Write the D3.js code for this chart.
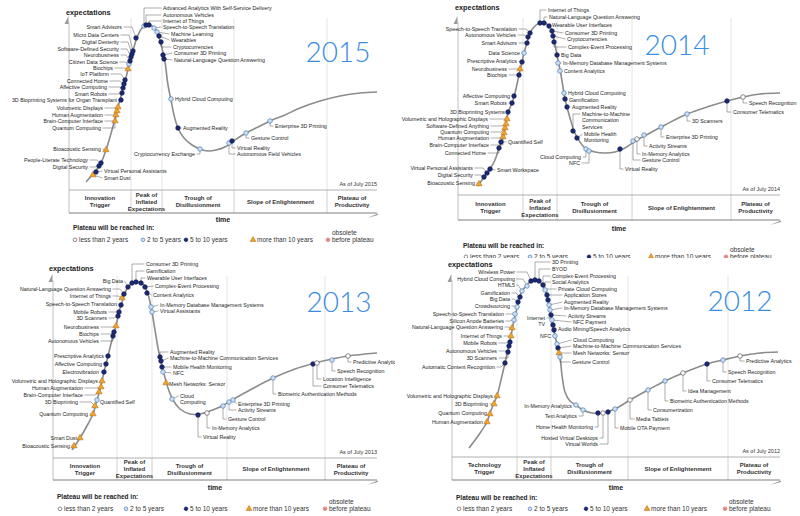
<!DOCTYPE html>
<html>
<head>
<meta charset="utf-8">
<script src="https://cdn.jsdelivr.net/npm/d3@7"></script>
<style>
  body { margin: 0; background: #fff; }
  svg { display: block; font-family: "Liberation Sans", Arial, sans-serif; }
</style>
</head>
<body>
<div id="chart"></div>
<script>
// ---- shared categories ----
const statuses = ["lt2", "2to5", "5to10", "gt10", "obs"];
const legendLabels = ["less than 2 years", "2 to 5 years", "5 to 10 years", "more than 10 years", "before plateau"];
const phaseNames = [["Innovation", "Trigger"], ["Peak of", "Inflated", "Expectations"], ["Trough of", "Disillusionment"], ["Slope of Enlightenment"], ["Plateau of", "Productivity"]];
const phaseNames2012 = [["Technology", "Trigger"], ["Peak of", "Inflated", "Expectations"], ["Trough of", "Disillusionment"], ["Slope of Enlightenment"], ["Plateau of", "Productivity"]];

// ---- 2015 ---- (time, expectations)
const curve2015 = [[17,8],[24,16],[31,25],[37,40],[43,60],[49,83],[55,105],[61,128],[65,143],[69,155],[73,162],[78,165],[83,164],[87,160],[90,153],[93,142],[96,128],[99,105],[102,90],[105,75],[109,62],[115,52],[123,45],[131,41],[139,39],[147,40],[156,43],[166,50],[177,57],[189,63],[201,69],[216,75],[231,82],[251,89],[271,94],[291,97],[308,98]];
const phases2015 = [62, 93, 165, 258];
const tech2015 = [
  ["Smart Dust",24,15,"gt10"],["Virtual Personal Assistants",27,18,"5to10"],["Digital Security",30,24,"5to10"],
  ["People-Literate Technology",32,27,"5to10"],["Bioacoustic Sensing",37,40,"gt10"],["Quantum Computing",46,69,"gt10"],
  ["Brain-Computer Interface",47,75,"gt10"],["Human Augmentation",48,79,"gt10"],["Volumetric Displays",49,83,"gt10"],
  ["3D Bioprinting Systems for Organ Transplant",52,90,"5to10"],["Smart Robots",53,97,"5to10"],["Affective Computing",54,102,"5to10"],
  ["Connected Home",55,106,"5to10"],["IoT Platform",56,110,"5to10"],["Biochips",59,121,"gt10"],
  ["Citizen Data Science",60,126,"2to5"],["Neurobusiness",61,129,"5to10"],["Software-Defined Security",62,133,"5to10"],
  ["Digital Dexterity",63,136,"5to10"],["Micro Data Centers",64,139,"5to10"],["Smart Advisors",67,152,"5to10"],
  ["Advanced Analytics With Self-Service Delivery",75,164,"2to5"],["Autonomous Vehicles",77,165,"5to10"],["Internet of Things",80,165,"5to10"],
  ["Speech-to-Speech Translation",85,162,"2to5"],["Machine Learning",88,158,"2to5"],["Wearables",90,154,"5to10"],
  ["Cryptocurrencies",92,148,"5to10"],["Consumer 3D Printing",94,135,"5to10"],["Natural-Language Question Answering",95,131,"5to10"],
  ["Hybrid Cloud Computing",102,91,"2to5"],["Augmented Reality",109,62,"5to10"],["Cryptocurrency Exchange",131,41,"2to5"],
  ["Autonomous Field Vehicles",160,47,"2to5"],["Virtual Reality",163,49,"5to10"],["Gesture Control",177,57,"2to5"],
  ["Enterprise 3D Printing",201,69,"2to5"]
];
const labels2015 = [
  ["Smart Advisors",53,163,"e"],["Micro Data Centers",50,155,"e"],["Digital Dexterity",50,148,"e"],
  ["Software-Defined Security",50,141,"e"],["Neurobusiness",50,135,"e"],["Citizen Data Science",49,128,"e"],
  ["Biochips",44,122,"e"],["IoT Platform",40,116,"e"],["Connected Home",39,109,"e"],["Affective Computing",38,103,"e"],
  ["Smart Robots",38,96,"e"],["3D Bioprinting Systems for Organ Transplant",48,90,"e"],["Volumetric Displays",34,82,"e"],
  ["Human Augmentation",34,75,"e"],["Brain-Computer Interface",34,69,"e"],["Quantum Computing",32,62,"e"],
  ["Bioacoustic Sensing",32,41,"e"],["People-Literate Technology",19,30,"e"],["Digital Security",19,23,"e"],
  ["Virtual Personal Assistants",35,19,"s"],["Smart Dust",35,12,"s"],
  ["Advanced Analytics With Self-Service Delivery",94,182,"s"],["Autonomous Vehicles",94,175,"s"],["Internet of Things",94,169,"s"],
  ["Speech-to-Speech Translation",94,163,"s"],["Machine Learning",102,156,"s"],["Wearables",102,150,"s"],
  ["Cryptocurrencies",104,143,"s"],["Consumer 3D Printing",105,137,"s"],["Natural-Language Question Answering",105,130,"s"],
  ["Hybrid Cloud Computing",106,91,"s"],["Augmented Reality",114,62,"s"],["Cryptocurrency Exchange",126,36,"e"],
  ["Virtual Reality",168,42,"s"],["Autonomous Field Vehicles",168,36,"s"],["Gesture Control",182,52,"s"],
  ["Enterprise 3D Printing",206,64,"s"]
];

// ---- 2014 ----
const curve2014 = [[20,9],[26,18],[32,26],[37,35],[41,47],[44,55],[47,66],[50,82],[54,92],[57,102],[61,120],[64,133],[66,142],[69,152],[72,162],[76,168],[82,172],[87,172],[91,169],[94,164],[96,155],[99,140],[101,130],[103,120],[106,102],[108,92],[112,77],[116,64],[120,56],[127,47],[137,43],[147,42],[157,43],[167,47],[179,55],[192,62],[207,70],[229,81],[252,89],[269,94],[285,98],[302,101],[322,102]];
const phases2014 = [65, 99, 174, 273];
const tech2014 = [
  ["Bioacoustic Sensing",21,11,"gt10"],["Digital Security",26,18,"5to10"],["Virtual Personal Assistants",29,22,"5to10"],
  ["Smart Workspace",32,26,"5to10"],["Connected Home",41,47,"5to10"],["Quantified Self",43,53,"5to10"],
  ["Brain-Computer Interface",45,58,"gt10"],["Human Augmentation",46,62,"gt10"],["Quantum Computing",47,67,"gt10"],
  ["Software-Defined Anything",48,71,"gt10"],["Volumetric and Holographic Displays",49,76,"gt10"],["3D Bioprinting Systems",50,83,"5to10"],
  ["Smart Robots",54,92,"5to10"],["Affective Computing",56,99,"5to10"],["Biochips",61,120,"5to10"],
  ["Neurobusiness",62,126,"gt10"],["Prescriptive Analytics",64,133,"5to10"],["Data Science",66,142,"2to5"],
  ["Smart Advisors",69,152,"5to10"],["Autonomous Vehicles",70,158,"5to10"],["Speech-to-Speech Translation",72,162,"5to10"],
  ["Internet of Things",82,172,"5to10"],["Natural-Language Question Answering",86,172,"5to10"],["Wearable User Interfaces",91,169,"5to10"],
  ["Consumer 3D Printing",94,164,"5to10"],["Cryptocurrencies",95,159,"5to10"],["Complex-Event Processing",96,153,"5to10"],
  ["Big Data",99,140,"5to10"],["In-Memory Database Management Systems",100,132,"2to5"],["Content Analytics",102,124,"2to5"],
  ["Hybrid Cloud Computing",106,102,"2to5"],["Gamification",107,96,"5to10"],["Augmented Reality",109,88,"5to10"],
  ["Machine-to-Machine Communication Services",115,64,"5to10"],["Mobile Health Monitoring",119,57,"5to10"],
  ["Cloud Computing",128,46,"2to5"],["NFC",131,44,"2to5"],["Virtual Reality",162,46,"5to10"],
  ["Gesture Control",175,54,"2to5"],["In-Memory Analytics",179,56,"lt2"],["Activity Streams",186,60,"2to5"],
  ["Enterprise 3D Printing",203,68,"2to5"],["3D Scanners",229,81,"2to5"],["Consumer Telematics",269,94,"5to10"],
  ["Speech Recognition",285,98,"lt2"]
];
const labels2014 = [
  ["Speech-to-Speech Translation",59,166,"e"],["Autonomous Vehicles",58,160,"e"],["Smart Advisors",59,152,"e"],
  ["Data Science",62,142,"e"],["Prescriptive Analytics",59,134,"e"],["Neurobusiness",49,126,"e"],["Biochips",49,120,"e"],
  ["Affective Computing",52,99,"e"],["Smart Robots",49,92,"e"],["3D Bioprinting Systems",47,83,"e"],
  ["Volumetric and Holographic Displays",30,76,"e"],["Software-Defined Anything",31,69,"e"],["Quantum Computing",31,63,"e"],
  ["Human Augmentation",31,57,"e"],["Brain-Computer Interface",31,50,"e"],["Connected Home",28,42,"e"],
  ["Virtual Personal Assistants",15,27,"e"],["Digital Security",15,20,"e"],["Bioacoustic Sensing",17,12,"e"],
  ["Quantified Self",50,53,"s"],["Smart Workspace",39,25,"s"],["Internet of Things",90,185,"s"],
  ["Natural-Language Question Answering",91,178,"s"],["Wearable User Interfaces",94,170,"s"],["Consumer 3D Printing",107,162,"s"],
  ["Cryptocurrencies",109,156,"s"],["Complex-Event Processing",110,148,"s"],["Big Data",103,140,"s"],
  ["In-Memory Database Management Systems",105,132,"s"],["Content Analytics",106,124,"s"],["Hybrid Cloud Computing",110,102,"s"],
  ["Gamification",111,95,"s"],["Augmented Reality",114,88,"s"],
  ["Machine-to-Machine Communication Services",124,81,"s","Machine-to-Machine\nCommunication\nServices"],
  ["Mobile Health Monitoring",126,61,"s","Mobile Health\nMonitoring"],["Cloud Computing",123,38,"e"],["NFC",122,32,"e"],
  ["Virtual Reality",167,26,"s"],["In-Memory Analytics",184,41,"s"],["Gesture Control",184,35,"s"],
  ["Activity Streams",191,49,"s"],["Enterprise 3D Printing",208,58,"s"],["3D Scanners",234,74,"s"],
  ["Consumer Telematics",275,83,"s"],["Speech Recognition",291,92,"s"]
];

// ---- 2013 ----
const curve2013 = [[19,8],[27,20],[35,34],[40,44],[44,58],[48,72],[51,86],[53,94],[55,102],[60,122],[63,132],[66,146],[69,156],[72,165],[75,171],[80,175],[86,176],[91,173],[94,167],[97,156],[99,146],[102,128],[105,110],[108,96],[111,84],[115,70],[120,58],[127,49],[137,44],[147,44],[157,47],[169,52],[179,58],[197,68],[220,80],[242,89],[262,95],[279,99],[295,102],[324,105]];
const phases2013 = [64, 99, 174, 272];
const tech2013 = [
  ["Bioacoustic Sensing",21,12,"gt10"],["Smart Dust",27,20,"gt10"],["Quantum Computing",40,44,"gt10"],
  ["3D Bioprinting",42,52,"gt10"],["Quantified Self",44,58,"2to5"],["Brain-Computer Interface",46,66,"gt10"],
  ["Human Augmentation",48,71,"gt10"],["Volumetric and Holographic Displays",49,77,"gt10"],["Electrovibration",51,86,"5to10"],
  ["Affective Computing",53,94,"5to10"],["Prescriptive Analytics",55,102,"5to10"],["Autonomous Vehicles",60,122,"5to10"],
  ["Biochips",61,126,"5to10"],["Neurobusiness",63,132,"gt10"],["3D Scanners",65,142,"5to10"],["Mobile Robots",66,146,"5to10"],
  ["Speech-to-Speech Translation",68,153,"5to10"],["Internet of Things",69,160,"gt10"],["Natural-Language Question Answering",71,164,"5to10"],
  ["Big Data",75,171,"5to10"],["Consumer 3D Printing",79,175,"5to10"],["Gamification",83,176,"5to10"],
  ["Wearable User Interfaces",88,175,"5to10"],["Complex-Event Processing",92,171,"5to10"],["Content Analytics",94,165,"5to10"],
  ["In-Memory Database Management Systems",98,151,"2to5"],["Virtual Assistants",99,146,"2to5"],["Augmented Reality",107,101,"5to10"],
  ["Machine-to-Machine Communication Services",108,97,"5to10"],["Mobile Health Monitoring",109,91,"5to10"],["NFC",110,86,"2to5"],
  ["Mesh Networks: Sensor",113,75,"gt10"],["Cloud Computing",119,59,"2to5"],["Virtual Reality",145,43,"5to10"],
  ["In-Memory Analytics",154,45,"lt2"],["Gesture Control",170,52,"2to5"],["Activity Streams",176,56,"2to5"],
  ["Enterprise 3D Printing",180,58,"2to5"],["Biometric Authentication Methods",220,80,"2to5"],["Consumer Telematics",260,94,"5to10"],
  ["Location Intelligence",264,95,"lt2"],["Speech Recognition",279,98,"2to5"],["Predictive Analytics",295,102,"lt2"]
];
const labels2013 = [
  ["Big Data",70,177,"e"],["Natural-Language Question Answering",58,169,"e"],["Internet of Things",58,162,"e"],
  ["Speech-to-Speech Translation",64,154,"e"],["Mobile Robots",54,146,"e"],["3D Scanners",54,140,"e"],
  ["Neurobusiness",46,131,"e"],["Biochips",46,124,"e"],["Autonomous Vehicles",46,117,"e"],
  ["Prescriptive Analytics",51,102,"e"],["Affective Computing",49,94,"e"],["Electrovibration",46,86,"e"],
  ["Volumetric and Holographic Displays",45,77,"e"],["Human Augmentation",30,70,"e"],["Brain-Computer Interface",30,63,"e"],
  ["3D Bioprinting",25,56,"e"],["Quantum Computing",35,44,"e"],["Smart Dust",24,20,"e"],["Bioacoustic Sensing",17,12,"e"],
  ["Quantified Self",47,56,"s"],["Consumer 3D Printing",93,194,"s"],["Gamification",93,187,"s"],
  ["Wearable User Interfaces",94,180,"s"],["Complex-Event Processing",102,172,"s"],["Content Analytics",100,163,"s"],
  ["In-Memory Database Management Systems",107,153,"s"],["Virtual Assistants",107,147,"s"],["Augmented Reality",117,106,"s"],
  ["Machine-to-Machine Communication Services",117,100,"s"],["Mobile Health Monitoring",120,91,"s"],["NFC",120,85,"s"],
  ["Mesh Networks: Sensor",116,74,"s"],["Cloud Computing",127,62,"s","Cloud\nComputing"],["Virtual Reality",150,21,"s"],
  ["In-Memory Analytics",159,30,"s"],["Gesture Control",175,39,"s"],["Activity Streams",185,48,"s"],
  ["Enterprise 3D Printing",185,54,"s"],["Biometric Authentication Methods",225,64,"s"],["Location Intelligence",270,79,"s"],
  ["Consumer Telematics",270,72,"s"],["Speech Recognition",284,87,"s"],["Predictive Analytics",300,96,"s"]
];

// ---- 2012 ----
const curve2012 = [[17,9],[26,21],[35,35],[38,44],[42,54],[45,61],[49,77],[53,94],[56,108],[59,121],[61,132],[64,145],[67,157],[70,166],[75,172],[79,176],[83,177],[88,175],[92,169],[95,161],[97,151],[99,141],[101,131],[103,121],[105,113],[108,100],[110,82],[113,65],[118,56],[124,52],[131,47],[140,44],[151,44],[163,48],[178,57],[196,67],[213,76],[231,84],[255,93],[271,97],[288,101],[308,104],[326,105]];
const phases2012 = [65, 99, 176, 276];
const tech2012 = [
  ["Human Augmentation",35,35,"gt10"],["Quantum Computing",38,43,"gt10"],["3D Bioprinting",42,53,"gt10"],
  ["Volumetric and Holographic Displays",45,61,"gt10"],["Automatic Content Recognition",53,94,"5to10"],["3D Scanners",56,105,"5to10"],
  ["Autonomous Vehicles",57,111,"5to10"],["Mobile Robots",58,115,"5to10"],["Internet of Things",59,121,"gt10"],
  ["Natural-Language Question Answering",60,129,"gt10"],["Silicon Anode Batteries",62,137,"2to5"],["Speech-to-Speech Translation",63,143,"2to5"],
  ["Crowdsourcing",65,150,"2to5"],["Big Data",66,155,"5to10"],["Gamification",68,160,"5to10"],["HTML5",70,166,"2to5"],
  ["Hybrid Cloud Computing",75,171,"2to5"],["Wireless Power",79,176,"5to10"],["3D Printing",83,177,"5to10"],
  ["BYOD",87,176,"5to10"],["Complex-Event Processing",91,172,"5to10"],["Social Analytics",93,167,"2to5"],
  ["Private Cloud Computing",95,162,"5to10"],["Application Stores",96,157,"5to10"],["Augmented Reality",97,152,"2to5"],
  ["In-Memory Database Management Systems",98,147,"2to5"],["Activity Streams",99,142,"5to10"],["NFC Payment",100,137,"2to5"],
  ["Audio Mining/Speech Analytics",101,132,"5to10"],["Internet TV",102,127,"5to10"],["NFC",103,121,"2to5"],
  ["Cloud Computing",105,113,"2to5"],["Machine-to-Machine Communication Services",106,109,"5to10"],["Mesh Networks: Sensor",107,104,"gt10"],
  ["Gesture Control",108,100,"2to5"],["In-Memory Analytics",124,52,"2to5"],["Text Analytics",131,47,"2to5"],
  ["Home Health Monitoring",146,44,"5to10"],["Hosted Virtual Desktops",151,44,"lt2"],["Virtual Worlds",156,45,"5to10"],
  ["Mobile OTA Payment",163,48,"2to5"],["Media Tablets",178,57,"lt2"],["Consumerization",196,67,"2to5"],
  ["Biometric Authentication Methods",213,76,"2to5"],["Idea Management",231,84,"lt2"],["Consumer Telematics",255,93,"5to10"],
  ["Speech Recognition",271,97,"2to5"],["Predictive Analytics",288,101,"lt2"]
];
const labels2012 = [
  ["Wireless Power",63,185,"e"],["Hybrid Cloud Computing",63,178,"e"],["HTML5",63,172,"e"],["Gamification",58,164,"e"],
  ["Big Data",58,158,"e"],["Crowdsourcing",58,151,"e"],["Speech-to-Speech Translation",52,143,"e"],
  ["Silicon Anode Batteries",52,136,"e"],["Natural-Language Question Answering",51,130,"e"],["Internet of Things",50,121,"e"],
  ["Mobile Robots",45,114,"e"],["Autonomous Vehicles",45,106,"e"],["3D Scanners",45,99,"e"],
  ["Automatic Content Recognition",43,90,"e"],["Volumetric and Holographic Displays",41,61,"e"],["3D Bioprinting",36,53,"e"],
  ["Quantum Computing",35,44,"e"],["Human Augmentation",31,35,"e"],["Internet TV",93,139,"e","Internet\nTV"],
  ["NFC",99,121,"e"],["In-Memory Analytics",120,51,"e"],["Text Analytics",125,41,"e"],["Home Health Monitoring",141,30,"e"],
  ["Hosted Virtual Desktops",146,19,"e"],["Virtual Worlds",146,13,"e"],
  ["3D Printing",100,195,"s"],["BYOD",100,188,"s"],["Complex-Event Processing",100,181,"s"],["Social Analytics",100,175,"s"],
  ["Private Cloud Computing",106,168,"s"],["Application Stores",112,162,"s"],["Augmented Reality",112,155,"s"],
  ["In-Memory Database Management Systems",112,149,"s"],["Activity Streams",116,141,"s"],["NFC Payment",121,135,"s"],
  ["Audio Mining/Speech Analytics",106,128,"s"],["Cloud Computing",121,117,"s"],
  ["Machine-to-Machine Communication Services",121,111,"s"],["Mesh Networks: Sensor",121,104,"s"],["Gesture Control",120,95,"s"],
  ["Mobile OTA Payment",168,29,"s"],["Media Tablets",184,38,"s"],["Consumerization",201,47,"s"],
  ["Biometric Authentication Methods",218,56,"s"],["Idea Management",236,66,"s"],["Consumer Telematics",260,76,"s"],
  ["Speech Recognition",276,85,"s"],["Predictive Analytics",294,96,"s"]
];

// ---- panel layout ----
const panels = [
  { year: "2015", curve: curve2015, tech: tech2015, labels: labels2015, phases: phases2015, names: phaseNames,
    x0: 69, x1: 377, yTop: 22, yb: 190, rowH: 23, clip: [0, 0, 400, 258],
    expX: 66, expY: 14.5, yearX: 338, yearY: 62, timeY: 222, legX: 73, legY: 230, rowY: 242, legOff: [0, 68, 111, 178, 253] },
  { year: "2014", curve: curve2014, tech: tech2014, labels: labels2014, phases: phases2014, names: phaseNames,
    x0: 458, x1: 780, yTop: 22, yb: 195, rowH: 25, clip: [400, 0, 400, 258],
    expX: 455, expY: 10, yearX: 677, yearY: 55, timeY: 231, legX: 463, legY: 248, rowY: 259, legOff: [1, 65, 124, 186, 261] },
  { year: "2013", curve: curve2013, tech: tech2013, labels: labels2013, phases: phases2013, names: phaseNames,
    x0: 53, x1: 377, yTop: 280, yb: 458, rowH: 22, clip: [0, 258, 395, 258],
    expX: 49, expY: 270.5, yearX: 339, yearY: 312, timeY: 490, legX: 57, legY: 499, rowY: 511, legOff: [1, 67, 127, 190, 266] },
  { year: "2012", curve: curve2012, tech: tech2012, labels: labels2012, phases: phases2012, names: phaseNames2012,
    x0: 452, x1: 780, yTop: 280, yb: 457, rowH: 23, clip: [400, 258, 400, 258],
    expX: 448, expY: 267, yearX: 740, yearY: 311, timeY: 490, legX: 456, legY: 500, rowY: 511, legOff: [1, 72, 128, 189, 267] }
];

const style = {
  lt2: { fill: "#ffffff", stroke: "#5a5a5a" },
  "2to5": { fill: "#cfe0f4", stroke: "#4d7db8" },
  "5to10": { fill: "#1c2a74", stroke: "#0f1a52" },
  gt10: { fill: "#f3a32c", stroke: "#b5741a" },
  obs: { fill: "#f7bcbc", stroke: "#d66a6a" }
};

const svg = d3.select("#chart").append("svg")
  .attr("width", 800).attr("height", 516);
svg.append("rect").attr("width", 800).attr("height", 516).attr("fill", "#fff");

const tri = d3.symbol().type(d3.symbolTriangle);

function drawMarker(sel, status, cx, cy, size) {
  const s = style[status];
  if (status === "gt10") {
    sel.append("path").attr("d", tri.size(size * 3.4)())
      .attr("transform", `translate(${cx},${cy})`)
      .attr("fill", s.fill).attr("stroke", s.stroke).attr("stroke-width", 0.6);
  } else {
    sel.append("circle").attr("cx", cx).attr("cy", cy).attr("r", size / 2.2)
      .attr("fill", s.fill).attr("stroke", s.stroke).attr("stroke-width", 0.7);
    if (status === "obs") {
      const r = size / 4;
      sel.append("path").attr("d", `M${cx - r},${cy - r}L${cx + r},${cy + r}M${cx - r},${cy + r}L${cx + r},${cy - r}`)
        .attr("stroke", "#c04848").attr("stroke-width", 0.6);
    }
  }
}

function leaderPath(px, py, lx, ly, anchor) {
  if (anchor === "e") {
    const ex = lx + 1.5;
    if (ly - py > 4) return `M${px},${py}V${ly}H${ex}`;
    return `M${ex},${ly}H${Math.max(ex, px - 4)}L${px},${py}`;
  }
  const sx = lx - 1.5;
  if (Math.abs(ly - py) > 4) return `M${px},${py}V${ly}H${sx}`;
  return `M${px},${py}L${sx},${ly}`;
}

function drawPanel(p) {
  const x = d3.scaleLinear().domain([0, p.x1 - p.x0]).range([p.x0, p.x1]);
  const y = d3.scaleLinear().domain([0, p.yb - p.yTop]).range([p.yb, p.yTop]);
  const clipId = "clip-" + p.year;
  svg.append("clipPath").attr("id", clipId).append("rect")
    .attr("x", p.clip[0]).attr("y", p.clip[1]).attr("width", p.clip[2]).attr("height", p.clip[3]);
  const g = svg.append("g").attr("clip-path", `url(#${clipId})`);
  const rowB = p.yb + p.rowH;

  // phase dividers in plot and in phase row
  g.selectAll(".pdiv").data(p.phases).join("line").attr("class", "pdiv")
    .attr("x1", d => x(d)).attr("x2", d => x(d))
    .attr("y1", p.yTop - 4).attr("y2", p.yb)
    .attr("stroke", "#dedede").attr("stroke-width", 0.8);
  g.selectAll(".rdiv").data(p.phases).join("line").attr("class", "rdiv")
    .attr("x1", d => x(d)).attr("x2", d => x(d))
    .attr("y1", p.yb).attr("y2", rowB)
    .attr("stroke", "#c4c4c4").attr("stroke-width", 0.8);

  // axes
  g.append("line").attr("x1", p.x0).attr("x2", p.x0).attr("y1", p.yTop).attr("y2", rowB)
    .attr("stroke", "#b0b0b0").attr("stroke-width", 0.8);
  g.append("path").attr("d", `M${p.x0 - 0.5},${p.yTop - 6}L${p.x0 - 0.5},${p.yTop + 2}L${p.x0 - 4.5},${p.yTop + 2}Z`)
    .attr("fill", "#9a9a9a");
  g.append("line").attr("x1", p.x0).attr("x2", p.x1).attr("y1", p.yb).attr("y2", p.yb)
    .attr("stroke", "#9c9c9c").attr("stroke-width", 0.8);
  g.append("line").attr("x1", p.x0).attr("x2", p.x1).attr("y1", rowB).attr("y2", rowB)
    .attr("stroke", "#6f6f6f").attr("stroke-width", 0.9);
  g.append("path").attr("d", `M${p.x1 - 10},${rowB + 5}L${p.x1 + 1},${rowB + 0.5}L${p.x1 + 1},${rowB + 2}Z`)
    .attr("fill", "#9a9a9a");

  // phase names
  const bounds = [0, ...p.phases, p.x1 - p.x0];
  p.names.forEach((lines, i) => {
    const cx = x((bounds[i] + bounds[i + 1]) / 2);
    const lh = 7;
    const top = p.yb + p.rowH / 2 - (lines.length - 1) * lh / 2;
    const t = g.append("text").attr("text-anchor", "middle")
      .attr("font-size", 6).attr("font-weight", "bold").attr("fill", "#333");
    lines.forEach((ln, j) => {
      t.append("tspan").attr("x", cx).attr("y", top + j * lh).attr("dy", "0.35em").text(ln);
    });
  });

  g.append("text").attr("x", p.x1).attr("y", p.yb - 4).attr("text-anchor", "end")
    .attr("font-size", 5.5).attr("fill", "#333").text("As of July " + p.year);

  // curve
  const line = d3.line().x(d => x(d[0])).y(d => y(d[1])).curve(d3.curveCatmullRom.alpha(0.5));
  g.append("path").attr("d", line(p.curve)).attr("fill", "none")
    .attr("stroke", "#8c8c8c").attr("stroke-width", 1.6);

  // leaders + labels
  const techByName = new Map(p.tech.map(d => [d[0], d]));
  const leaders = g.append("g");
  const texts = g.append("g").attr("font-size", 5.3).attr("fill", "#1e1e1e");
  p.labels.forEach(l => {
    const d = techByName.get(l[0]);
    if (!d) return;
    const px = x(d[1]), py = y(d[2]);
    const lx = x(l[1]), ly = y(l[2]);
    leaders.append("path").attr("d", leaderPath(px, py, lx, ly, l[3]))
      .attr("fill", "none").attr("stroke", "#4a4a4a").attr("stroke-width", 0.45);
    const lines = (l[4] || l[0]).split("\n");
    const t = texts.append("text").attr("text-anchor", l[3] === "e" ? "end" : "start");
    lines.forEach((ln, j) => {
      t.append("tspan").attr("x", lx).attr("y", ly + j * 6.4).attr("dy", "0.35em").text(ln);
    });
  });

  // markers
  const mk = g.append("g");
  p.tech.forEach(d => drawMarker(mk, d[3], x(d[1]), y(d[2]), 5));

  // titles
  g.append("text").attr("x", p.expX).attr("y", p.expY).attr("font-size", 7.3)
    .attr("font-weight", "bold").attr("fill", "#222").text("expectations");
  g.append("text").attr("x", (p.x0 + p.x1) / 2).attr("y", p.timeY).attr("text-anchor", "middle")
    .attr("font-size", 7).attr("font-weight", "bold").attr("fill", "#222").text("time");
  g.append("text").attr("x", p.yearX).attr("y", p.yearY).attr("text-anchor", "middle")
    .attr("font-family", "Lato, 'Open Sans', sans-serif").attr("font-weight", 300)
    .attr("font-size", 28).attr("fill", "#3b8de0").text(p.year);

  // legend
  g.append("text").attr("x", p.legX).attr("y", p.legY).attr("font-size", 6.5)
    .attr("font-weight", "bold").attr("fill", "#222").text("Plateau will be reached in:");
  statuses.forEach((s, i) => {
    const ix = p.legX + p.legOff[i];
    drawMarker(g, s, ix + 2, p.rowY - 2.2, 4);
    const tx = g.append("text").attr("x", ix + 6).attr("y", p.rowY)
      .attr("font-size", 6.5).attr("fill", "#333");
    if (s === "obs") {
      g.append("text").attr("x", ix + 6).attr("y", p.rowY - 7.5)
        .attr("font-size", 6.5).attr("fill", "#333").text("obsolete");
    }
    tx.text(legendLabels[i]);
  });
}

panels.forEach(drawPanel);
</script>
</body>
</html>
